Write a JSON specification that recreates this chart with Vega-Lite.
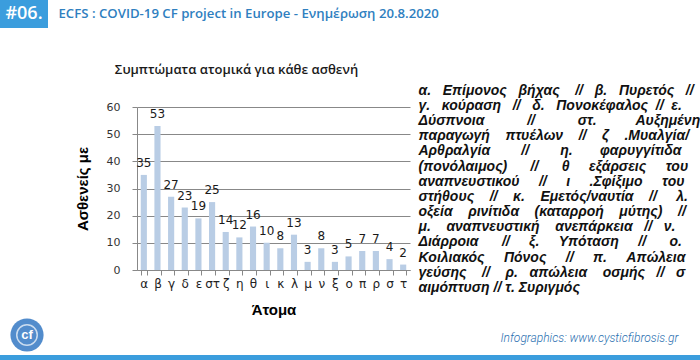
{
  "$schema": "https://vega.github.io/schema/vega-lite/v6.json",
  "padding": 0,
  "background": "white",
  "config": {"view": {"stroke": null}, "font": "Liberation Sans"},
  "spacing": 36,
  "vconcat": [
    {
      "spacing": 10,
      "hconcat": [
        {
          "width": 48, "height": 28,
          "view": {"fill": "#3b9ddd"},
          "data": {"values": [{"t": "#06."}]},
          "mark": {"type": "text", "color": "white", "fontSize": 18, "font": "Open Sans", "fontWeight": 600},
          "encoding": {"text": {"field": "t"}}
        },
        {
          "width": 1, "height": 28,
          "data": {"values": [{"t": "ECFS : COVID-19 CF project in Europe - Ενημέρωση 20.8.2020"}]},
          "mark": {"type": "text", "align": "left", "color": "#2f80c0", "fontSize": 13.2, "font": "Open Sans", "fontWeight": 600},
          "encoding": {"text": {"field": "t"}}
        }
      ]
    },
    {
      "spacing": 0,
      "vconcat": [
        {
          "spacing": 8,
          "hconcat": [
            {
              "width": 67, "height": 1,
              "data": {"values": [{}]},
              "mark": {"type": "text", "text": ""}
            },
            {
              "width": 273, "height": 163,
              "title": {"text": "Συμπτώματα ατομικά για κάθε ασθενή", "fontSize": 13, "font": "Open Sans", "fontWeight": 600, "color": "#1a1a1a", "dx": -37, "offset": 24},
              "data": {"values": [
                {"cat": "α", "n": 35}, {"cat": "β", "n": 53}, {"cat": "γ", "n": 27}, {"cat": "δ", "n": 23},
                {"cat": "ε", "n": 19}, {"cat": "στ", "n": 25}, {"cat": "ζ", "n": 14}, {"cat": "η", "n": 12},
                {"cat": "θ", "n": 16}, {"cat": "ι", "n": 10}, {"cat": "κ", "n": 8}, {"cat": "λ", "n": 13},
                {"cat": "μ", "n": 3}, {"cat": "ν", "n": 8}, {"cat": "ξ", "n": 3}, {"cat": "ο", "n": 5},
                {"cat": "π", "n": 7}, {"cat": "ρ", "n": 7}, {"cat": "σ", "n": 4}, {"cat": "τ", "n": 2}
              ]},
              "encoding": {
                "x": {
                  "field": "cat", "type": "nominal", "sort": null,
                  "scale": {"paddingInner": 0.55, "paddingOuter": 0.275},
                  "axis": {"title": "Άτομα", "labelAngle": 0, "tickBand": "extent", "domainColor": "#888888", "tickColor": "#888888", "tickSize": 5, "labelFontSize": 12, "labelFont": "DejaVu Sans", "labelColor": "#222222", "labelPadding": 3, "titleFontSize": 15, "titleFontWeight": "bold", "titleColor": "#000000", "titlePadding": 13}
                },
                "y": {
                  "field": "n", "type": "quantitative",
                  "scale": {"domain": [0, 60]},
                  "axis": {"title": "Ασθενείς με", "values": [0, 10, 20, 30, 40, 50, 60], "grid": true, "gridColor": "#888888", "domainColor": "#888888", "tickColor": "#888888", "tickSize": 5, "labelFontSize": 11, "labelFont": "DejaVu Sans", "labelColor": "#333333", "labelPadding": 12, "titleFontSize": 15, "titleFontWeight": "bold", "titleColor": "#000000", "titlePadding": 16}
                }
              },
              "layer": [
                {"mark": {"type": "bar", "color": "#b9cde5"}},
                {
                  "mark": {"type": "text", "baseline": "bottom", "dy": -5, "fontSize": 12, "font": "DejaVu Sans", "color": "#1a1a1a"},
                  "encoding": {"text": {"field": "n", "type": "quantitative"}}
                }
              ]
            },
            {
              "width": 1, "height": 1,
              "data": {"values": [{"t": "α. \u00a0\u00a0Επίμονος \u00a0\u00a0βήχας \u00a0\u00a0\u00a0// \u00a0\u00a0β. \u00a0\u00a0Πυρετός \u00a0\u00a0//\nγ. \u00a0\u00a0κούραση \u00a0\u00a0// \u00a0\u00a0δ. \u00a0\u00a0Πονοκέφαλος \u00a0// \u00a0ε.\nΔύσπνοια \u00a0\u00a0\u00a0\u00a0\u00a0\u00a0\u00a0\u00a0\u00a0\u00a0// \u00a0\u00a0\u00a0\u00a0\u00a0\u00a0\u00a0\u00a0\u00a0\u00a0στ. \u00a0\u00a0\u00a0\u00a0\u00a0\u00a0\u00a0\u00a0\u00a0Αυξημένη\nπαραγωγή \u00a0\u00a0\u00a0πτυέλων \u00a0\u00a0\u00a0// \u00a0\u00a0\u00a0ζ \u00a0\u00a0\u00a0.Μυαλγία/\nΑρθραλγία \u00a0\u00a0\u00a0\u00a0\u00a0\u00a0\u00a0// \u00a0\u00a0\u00a0\u00a0\u00a0\u00a0\u00a0η. \u00a0\u00a0\u00a0\u00a0\u00a0\u00a0φαρυγγίτιδα\n(πονόλαιμος) \u00a0\u00a0\u00a0\u00a0\u00a0// \u00a0\u00a0\u00a0\u00a0\u00a0θ \u00a0\u00a0\u00a0\u00a0εξάρσεις \u00a0\u00a0\u00a0\u00a0του\nαναπνευστικού \u00a0\u00a0\u00a0\u00a0// \u00a0\u00a0\u00a0\u00a0ι \u00a0\u00a0\u00a0\u00a0.Σφίξιμο \u00a0\u00a0\u00a0\u00a0του\nστήθους \u00a0\u00a0\u00a0// \u00a0\u00a0\u00a0κ. \u00a0\u00a0\u00a0Εμετός/ναυτία \u00a0\u00a0\u00a0// \u00a0\u00a0\u00a0\u00a0λ.\nοξεία \u00a0\u00a0\u00a0ρινίτιδα \u00a0\u00a0\u00a0(καταρροή \u00a0\u00a0\u00a0μύτης) \u00a0\u00a0\u00a0//\nμ. \u00a0\u00a0\u00a0αναπνευστική \u00a0\u00a0\u00a0ανεπάρκεια \u00a0\u00a0// \u00a0\u00a0ν.\nΔιάρροια \u00a0\u00a0\u00a0\u00a0\u00a0// \u00a0\u00a0\u00a0\u00a0ξ. \u00a0\u00a0\u00a0\u00a0Υπόταση \u00a0\u00a0\u00a0\u00a0// \u00a0\u00a0\u00a0\u00a0\u00a0ο.\nΚοιλιακός \u00a0\u00a0\u00a0\u00a0Πόνος \u00a0\u00a0\u00a0\u00a0// \u00a0\u00a0\u00a0\u00a0π. \u00a0\u00a0\u00a0\u00a0Απώλεια\nγεύσης \u00a0\u00a0\u00a0// \u00a0\u00a0\u00a0ρ. \u00a0\u00a0απώλεια \u00a0\u00a0\u00a0οσμής \u00a0\u00a0// \u00a0\u00a0σ\nαιμόπτυση // τ. Συριγμός"}]},
              "mark": {"type": "text", "align": "left", "baseline": "middle", "dy": -17, "lineBreak": "\n", "lineHeight": 15.2, "fontSize": 14, "fontStyle": "italic", "fontWeight": "bold", "font": "Liberation Sans", "color": "#111111"},
              "encoding": {"text": {"field": "t"}}
            }
          ]
        },
        {
          "spacing": 0,
          "vconcat": [
            {
              "spacing": 446,
              "hconcat": [
                {
                  "width": 54, "height": 36,
                  "data": {"values": [{"t": "cf"}]},
                  "layer": [
                    {"mark": {"type": "point", "shape": "circle", "filled": true, "size": 1100, "color": "#3f7fc6", "opacity": 0.9}},
                    {"mark": {"type": "point", "shape": "circle", "filled": false, "size": 420, "color": "white", "strokeWidth": 1.5}},
                    {"mark": {"type": "text", "color": "white", "fontSize": 13, "fontWeight": "bold", "font": "Liberation Sans"}, "encoding": {"text": {"field": "t"}}}
                  ]
                },
                {
                  "width": 1, "height": 36,
                  "data": {"values": [{"t": "Infographics: www.cysticfibrosis.gr"}]},
                  "mark": {"type": "text", "align": "left", "dy": 3, "fontSize": 12, "fontStyle": "italic", "font": "Roboto", "fontWeight": 300, "color": "#2a6fb0"},
                  "encoding": {"text": {"field": "t"}}
                }
              ]
            },
            {
              "width": 700, "height": 8,
              "view": {"fill": "#3b9ddd"},
              "data": {"values": [{}]},
              "mark": {"type": "text", "text": ""}
            }
          ]
        }
      ]
    }
  ]
}
